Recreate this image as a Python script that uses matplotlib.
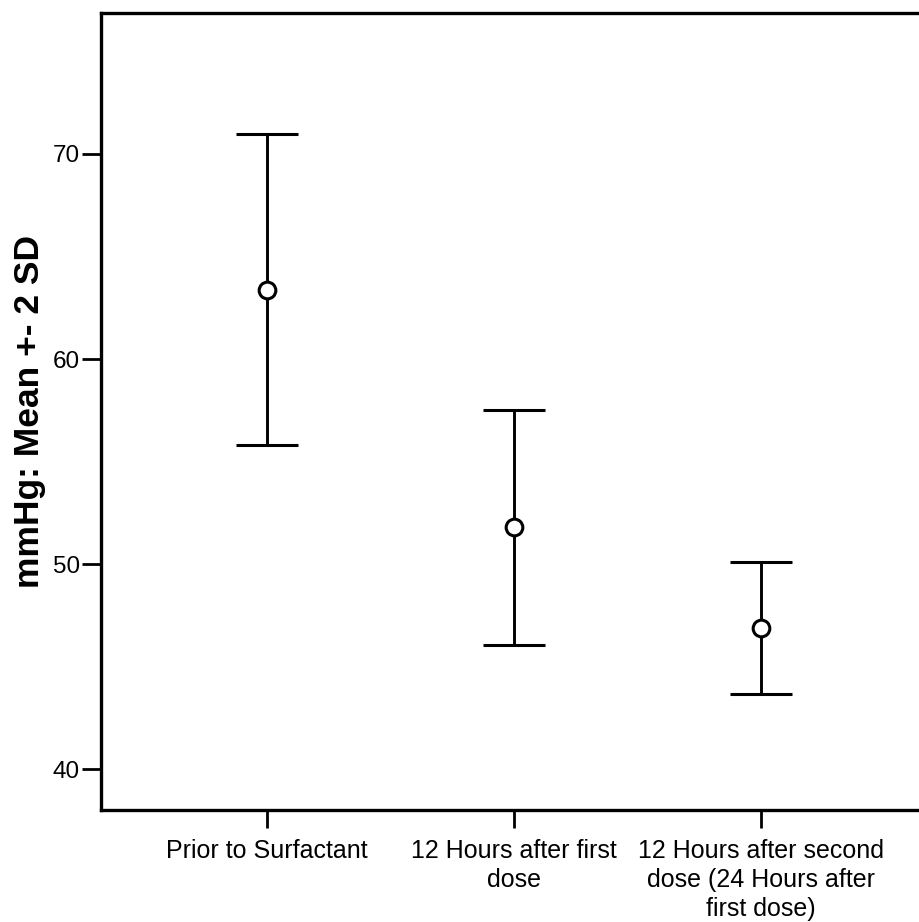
import matplotlib
matplotlib.use("Agg")
import matplotlib.pyplot as plt
import numpy as np

plt.rcParams['font.family'] = ['Liberation Sans', 'DejaVu Sans']

categories = ["Prior to Surfactant",
              "12 Hours after first\ndose",
              "12 Hours after second\ndose (24 Hours after\nfirst dose)"]
means = [63.37, 51.83, 46.91]
upper = [70.98, 57.52, 50.11]
lower = [55.82, 46.07, 43.68]
yticks = [40, 50, 60, 70]

W, H = 919, 922
fig = plt.figure(figsize=(W / 100, H / 100), dpi=100)
left_px, right_px, top_px, bottom_px = 101, 927, 13, 809.5
ax = fig.add_axes([left_px / W, (H - bottom_px) / H,
                   (right_px - left_px) / W, (bottom_px - top_px) / H])

x = np.arange(len(categories))
m = np.array(means)
yerr = np.vstack([m - np.array(lower), np.array(upper) - m])

ax.errorbar(x, m, yerr=yerr, fmt='o', color='black',
            ecolor='black', elinewidth=2.1, capsize=22.3, capthick=2.7,
            markersize=12, markerfacecolor='white',
            markeredgecolor='black', markeredgewidth=2.2, zorder=3)

ax.set_xlim(-0.674, 2.674)
ax.set_ylim(38.04, 76.87)
ax.set_yticks(yticks)
ax.set_yticklabels([str(t) for t in yticks])
ax.set_xticks(x)
ax.set_xticklabels(categories, fontsize=18, linespacing=1.27)

for s in ['left', 'bottom', 'top', 'right']:
    ax.spines[s].set_linewidth(2.4)
    ax.spines[s].set_color('black')

ax.tick_params(axis='y', direction='out', length=13.7, width=2.0,
               labelsize=17.5, pad=1.5)
ax.tick_params(axis='x', direction='out', length=13, width=2.0,
               labelsize=18, pad=8)

ax.set_ylabel("mmHg: Mean +- 2 SD", fontsize=25.5, fontweight='bold')
ax.yaxis.set_label_coords(-0.066, 0.5)

fig.savefig("out.png", dpi=100)
